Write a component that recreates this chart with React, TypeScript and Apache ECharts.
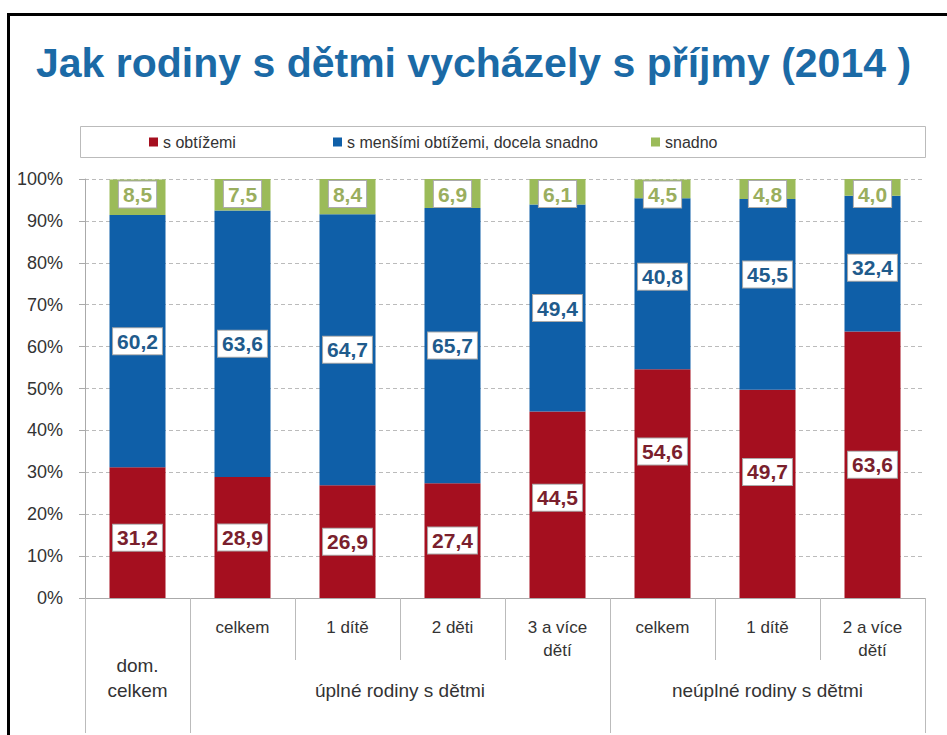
import React, { useEffect, useRef } from 'react';
import * as echarts from 'echarts';

const categories = [
  'dom. celkem',
  'úplné – celkem',
  'úplné – 1 dítě',
  'úplné – 2 děti',
  'úplné – 3 a více dětí',
  'neúplné – celkem',
  'neúplné – 1 dítě',
  'neúplné – 2 a více dětí',
];
const subLabels = ['', 'celkem', '1 dítě', '2 děti', '3 a více\ndětí', 'celkem', '1 dítě', '2 a více\ndětí'];
const groupLabels = ['dom.\ncelkem', 'úplné rodiny s dětmi', 'neúplné rodiny s dětmi'];
const groupStarts = [0, 1, 5];
const groupEnds = [0, 4, 7];

const seriesNames = ['s obtížemi', 's menšími obtížemi, docela snadno', 'snadno'];
const sObtizemi = [31.2, 28.9, 26.9, 27.4, 44.5, 54.6, 49.7, 63.6];
const sMensimiObtizemi = [60.2, 63.6, 64.7, 65.7, 49.4, 40.8, 45.5, 32.4];
const snadno = [8.5, 7.5, 8.4, 6.9, 6.1, 4.5, 4.8, 4.0];

// vertical nudges of the value boxes (layout only, px)
const redLabelNudge = [5, 0, 0, 0, -7, -32, -22, 0];
const blueLabelNudge = [0, 0, 0, 0, 0, -7, -20, 4];

const TITLE = 'Jak rodiny s dětmi vycházely s příjmy (2014 )';

const FONT = "'Liberation Sans', Arial, sans-serif";
const RED = '#a50f1f';
const BLUE = '#0f5fa8';
const GREEN = '#9bbb59';

const fmt = (p: any) => Number(p.value).toFixed(1).replace('.', ',');

const labelBase = {
  show: true,
  formatter: fmt,
  fontFamily: FONT,
  fontWeight: 'bold' as const,
  fontSize: 21,
  backgroundColor: '#fff',
  borderColor: '#aaa',
  borderWidth: 1,
  padding: [3, 4, 2, 4],
};

export default function App() {
  const ref = useRef<HTMLDivElement>(null);

  useEffect(() => {
    if (!ref.current) return;
    const chart = echarts.init(ref.current, undefined, { renderer: 'svg' });
    const option: any = {
      animation: false,
      backgroundColor: '#fff',
      title: {
        text: TITLE,
        left: 'center',
        top: 37,
        textStyle: { fontFamily: FONT, fontSize: 41, fontWeight: 'bold', color: '#1b6aa6' },
      },
      legend: seriesNames.map((n, i) => ({
        data: [n],
        left: [149, 333, 651][i],
        top: 134,
        padding: 0,
        icon: 'rect',
        itemWidth: 9,
        itemHeight: 9,
        itemGap: 4,
        textStyle: { fontFamily: FONT, fontSize: 16, color: '#333' },
      })),
      grid: { left: 85, right: 22, top: 179, bottom: 137 },
      xAxis: {
        type: 'category',
        data: categories,
        axisLine: { lineStyle: { color: '#aaa' } },
        axisTick: { show: true, interval: 0, length: 62, lineStyle: { color: '#bbb' } },
        axisLabel: {
          interval: 0,
          margin: 18,
          fontFamily: FONT,
          fontSize: 17,
          lineHeight: 23,
          color: '#333',
          formatter: (_v: string, i: number) => subLabels[i],
        },
      },
      yAxis: {
        type: 'value',
        min: 0,
        max: 100,
        interval: 10,
        axisLine: { show: true, lineStyle: { color: '#aaa' } },
        axisTick: { show: true, length: 6, lineStyle: { color: '#aaa' } },
        axisLabel: { formatter: '{value}%', fontFamily: FONT, fontSize: 18, color: '#333', margin: 22 },
        splitLine: { lineStyle: { color: '#bbb', type: [4, 3] } },
      },
      series: [
        {
          name: seriesNames[0],
          type: 'bar',
          stack: 'a',
          barWidth: 56,
          data: sObtizemi.map((v, i) => ({ value: v, label: { offset: [0, redLabelNudge[i]] } })),
          itemStyle: { color: RED },
          label: { ...labelBase, position: 'inside', color: '#7a1f2d' },
        },
        {
          name: seriesNames[1],
          type: 'bar',
          stack: 'a',
          barWidth: 56,
          data: sMensimiObtizemi.map((v, i) => ({ value: v, label: { offset: [0, blueLabelNudge[i]] } })),
          itemStyle: { color: BLUE },
          label: { ...labelBase, position: 'inside', color: '#1f5b8c' },
        },
        {
          name: seriesNames[2],
          type: 'bar',
          stack: 'a',
          barWidth: 56,
          data: snadno,
          itemStyle: { color: GREEN },
          label: { ...labelBase, position: 'insideTop', distance: 2, color: '#9aae5e' },
        },
      ],
    };
    chart.setOption(option);

    const cx = (i: number) => chart.convertToPixel({ xAxisIndex: 0 }, categories[i]) as number;
    const band = cx(1) - cx(0);
    const boundary = (i: number) => (i < categories.length ? cx(i) - band / 2 : cx(categories.length - 1) + band / 2);
    const axisY = chart.convertToPixel({ yAxisIndex: 0 }, 0) as number;
    const W = chart.getWidth();
    const H = chart.getHeight();

    const graphic: any[] = [
      { type: 'rect', shape: { x: 7, y: 13, width: W - 7, height: 3 }, style: { fill: '#000' } },
      { type: 'rect', shape: { x: 7, y: 13, width: 3, height: H - 13 }, style: { fill: '#000' } },
      { type: 'rect', shape: { x: 80.5, y: 126.5, width: 845, height: 31 }, style: { fill: 'none', stroke: '#bbb', lineWidth: 1 } },
    ];
    const groupBounds = [0, 1, 5, 8];
    groupBounds.forEach((b) => {
      const x = Math.round(boundary(b)) + 0.5;
      graphic.push({ type: 'line', shape: { x1: x, y1: axisY, x2: x, y2: H - 2 }, style: { stroke: '#bbb', lineWidth: 1 } });
    });
    groupLabels.forEach((g, gi) => {
      const x = (cx(groupStarts[gi]) + cx(groupEnds[gi])) / 2;
      graphic.push({
        type: 'text',
        x,
        y: axisY + 104.5,
        style: {
          text: g,
          fontFamily: FONT,
          fontSize: 19,
          lineHeight: 25,
          fill: '#333',
          align: 'center',
          verticalAlign: 'bottom',
        },
      });
    });
    chart.setOption({ graphic });

    return () => chart.dispose();
  }, []);

  return <div ref={ref} style={{ position: 'absolute', left: 0, top: 0, width: 947, height: 735 }} />;
}
